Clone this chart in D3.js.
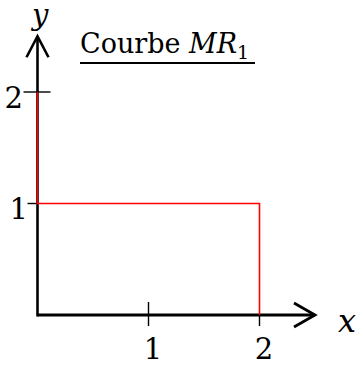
<!DOCTYPE html>
<html><head><meta charset="utf-8">
<script src="https://cdn.jsdelivr.net/npm/d3@7"></script>
<style>body{margin:0;background:#fff}svg{display:block}</style>
</head><body>
<script>
const xTicks = [1, 2];
const yTicks = [1, 2];
const curveX = [0, 0, 2, 2];
const curveY = [2, 1, 1, 0];
const axisMax = 2.5;
const title = "Courbe ";
const titleMath = "MR";
const titleSub = "1";

const W = 358, H = 365;
const svg = d3.select("body").append("svg").attr("width", W).attr("height", H);
const x = d3.scaleLinear().domain([0, 2]).range([37.5, 259.5]);
const y = d3.scaleLinear().domain([0, 2]).range([315, 92]);
const font = "'DejaVu Serif', 'Liberation Serif', serif";

// axes
const ax = svg.append("g").attr("stroke", "#000").attr("fill", "none").attr("stroke-linecap", "butt");
ax.append("line").attr("x1", x(0)).attr("x2", x(axisMax)).attr("y1", y(0)).attr("y2", y(0)).attr("stroke-width", 2.8);
ax.append("line").attr("x1", x(0)).attr("x2", x(0)).attr("y1", y(0) + 1.4).attr("y2", y(axisMax)).attr("stroke-width", 2.6);
// arrowheads
ax.append("path").attr("d", `M${x(axisMax) - 21},${y(0) - 12} L${x(axisMax)},${y(0)} L${x(axisMax) - 21},${y(0) + 12}`).attr("stroke-width", 2.8);
ax.append("path").attr("d", `M${x(0) - 11},${y(axisMax) + 21} L${x(0)},${y(axisMax)} L${x(0) + 11},${y(axisMax) + 21}`).attr("stroke-width", 2.6);

// x ticks
ax.selectAll(".xt").data(xTicks).join("line")
  .attr("x1", d => x(d)).attr("x2", d => x(d))
  .attr("y1", d => d === 2 ? y(0) : y(0) - 13).attr("y2", y(0) + 11)
  .attr("stroke-width", 1.4);
// y ticks
ax.selectAll(".yt").data(yTicks).join("line")
  .attr("x1", d => x(0) - (d === 1 ? 10 : 14)).attr("x2", d => d === 1 ? x(0) : x(0) + 13)
  .attr("y1", d => y(d)).attr("y2", d => y(d))
  .attr("stroke-width", 1.4);

// red curve (on top of axes)
svg.append("path")
  .datum(curveX.map((d, i) => [d, curveY[i]]))
  .attr("d", d3.line().x(d => x(d[0])).y(d => y(d[1])))
  .attr("fill", "none").attr("stroke", "#ff0000").attr("stroke-width", 1.6);

// tick labels
svg.selectAll(".xl").data(xTicks).join("text")
  .attr("x", d => x(d) + 4.5).attr("y", 359)
  .attr("text-anchor", "middle").attr("font-family", font).attr("font-size", 29)
  .text(d => d);
svg.selectAll(".yl").data(yTicks).join("text")
  .attr("x", d => d === 1 ? 28 : 23).attr("y", d => y(d) + 15.5)
  .attr("text-anchor", "end").attr("font-family", font).attr("font-size", 29)
  .text(d => d);

// axis names
svg.append("text").attr("x", 338).attr("y", 332).attr("font-family", font).attr("font-style", "italic").attr("font-size", 32).text("x");
svg.append("text").attr("x", 32).attr("y", 25).attr("font-family", font).attr("font-style", "italic").attr("font-size", 29).text("y");

// title
const t = svg.append("text").attr("x", 80).attr("y", 52.5).attr("font-family", font).attr("font-size", 27);
t.append("tspan").text(title);
t.append("tspan").attr("font-style", "italic").text(titleMath);
t.append("tspan").attr("font-size", 19).attr("dy", 6).text(titleSub);
svg.append("line").attr("x1", 80).attr("x2", 255).attr("y1", 63).attr("y2", 63).attr("stroke", "#000").attr("stroke-width", 1.8);
</script>
</body></html>
